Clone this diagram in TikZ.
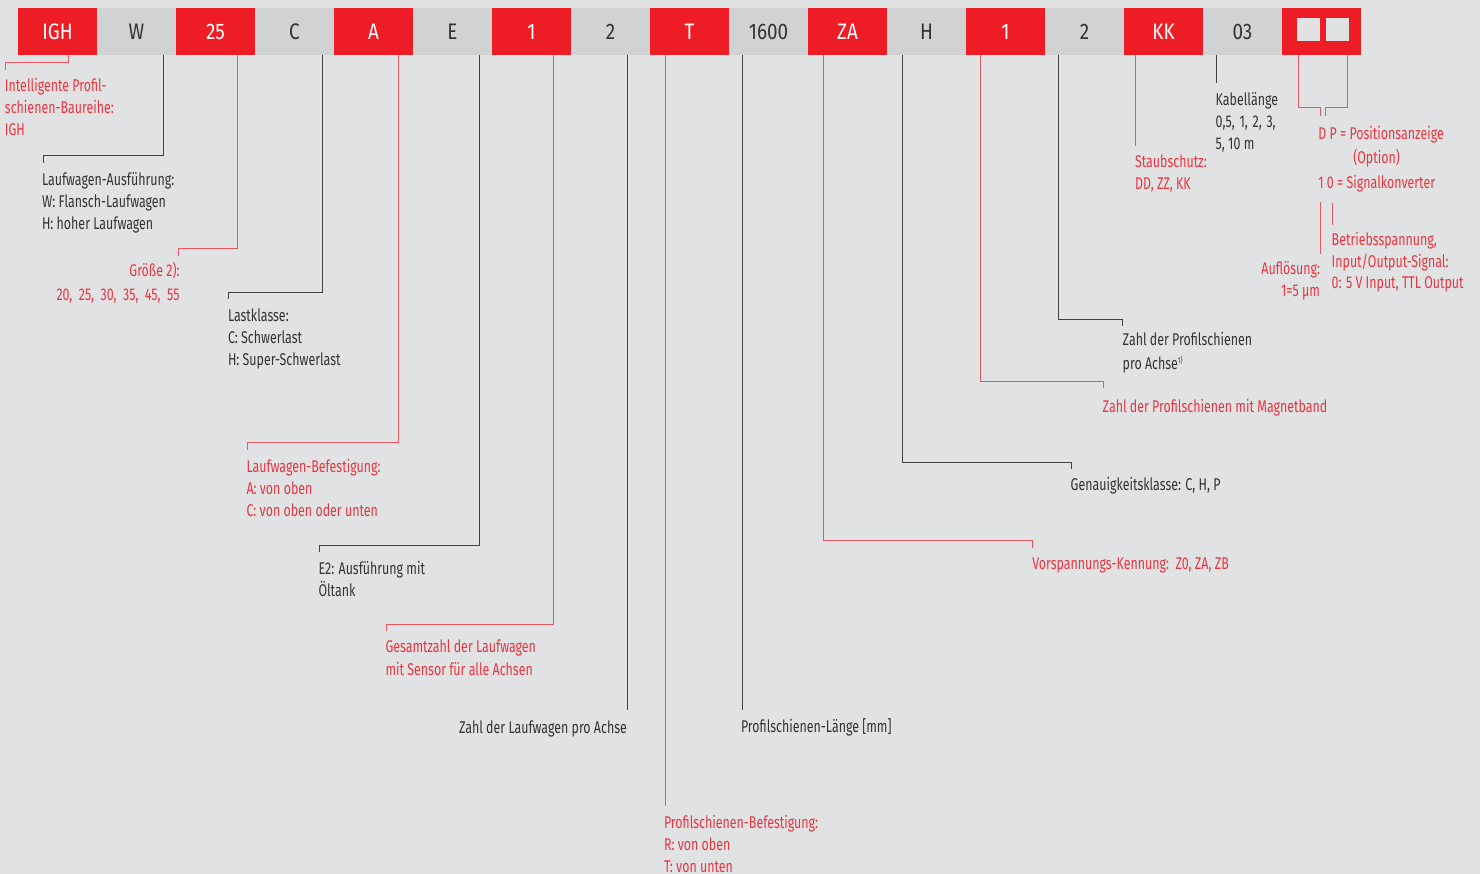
\documentclass[tikz,border=0pt]{standalone}
\usepackage{fontspec}
\setmainfont{Fira Sans}[FakeStretch=0.73]
\newfontfamily\boxfont{Fira Sans}[FakeStretch=0.84]
\definecolor{bg}{HTML}{E1E2E4}
\definecolor{boxred}{HTML}{EE1C25}
\definecolor{boxgrey}{HTML}{D1D2D4}
\definecolor{txtred}{HTML}{E8363F}
\definecolor{txtdark}{HTML}{333335}
\definecolor{linered}{HTML}{EC565E}
\definecolor{linedark}{HTML}{424244}
\begin{document}
\begin{tikzpicture}[x=1pt,y=-1pt,
  box/.style={minimum width=79pt, minimum height=47pt, inner sep=0pt, outer sep=0pt,
    font=\boxfont\fontsize{22.5}{22.5}\selectfont, text height=15.7pt, text depth=0pt},
  rbox/.style={box, fill=boxred, text=white},
  gbox/.style={box, fill=boxgrey, text=txtdark},
  sqbox/.style={minimum width=23pt, minimum height=23pt, inner sep=0pt, outer sep=0pt, fill=bg},
  lbl/.style={inner sep=0pt, outer sep=0pt, font=\fontsize{17}{22}\selectfont, align=left, anchor=base west},
  rlbl/.style={lbl, text=txtred},
  dlbl/.style={lbl, text=txtdark},
  rl/.style={draw=linered, line width=1pt},
  dl/.style={draw=linedark, line width=1pt},
]
\fill[bg] (0,0) rectangle (1480,874);
\useasboundingbox (0,0) rectangle (1480,874);

% code boxes
\node[rbox] (b1) at (57.5,31.5) {IGH};
\node[gbox] (b2) at (136.5,31.5) {W};
\node[rbox] (b3) at (215.5,31.5) {25};
\node[gbox] (b4) at (294.5,31.5) {C};
\node[rbox] (b5) at (373.5,31.5) {A};
\node[gbox] (b6) at (452.5,31.5) {E};
\node[rbox] (b7) at (531.5,31.5) {1};
\node[gbox] (b8) at (610.5,31.5) {2};
\node[rbox] (b9) at (689.5,31.5) {T};
\node[gbox] (b10) at (768.5,31.5) {1600};
\node[rbox] (b11) at (847.5,31.5) {ZA};
\node[gbox] (b12) at (926.5,31.5) {H};
\node[rbox] (b13) at (1005.5,31.5) {1};
\node[gbox] (b14) at (1084.5,31.5) {2};
\node[rbox] (b15) at (1163.5,31.5) {KK};
\node[gbox] (b16) at (1242.5,31.5) {03};
\node[rbox] (b17) at (1321.5,31.5) {};
\node[sqbox] (sq1) at (1308.3,29.2) {};
\node[sqbox] (sq2) at (1337.5,29.2) {};

% corner / end coordinates
\coordinate (k1) at (5.7,62.7);   \coordinate (e1) at (5.7,70);
\coordinate (k2) at (43.7,155.5); \coordinate (e2) at (43.7,162.7);
\coordinate (k3) at (178.7,249);  \coordinate (e3) at (178.7,256);
\coordinate (k4) at (228.7,292.3);\coordinate (e4) at (228.7,299);
\coordinate (k5) at (247.3,442.7);\coordinate (e5) at (247.3,450);
\coordinate (k6) at (319.3,545);  \coordinate (e6) at (319.3,551.7);
\coordinate (k7) at (386.7,624);  \coordinate (e7) at (386.7,631);
\coordinate (e8) at (627.5,710);
\coordinate (e9) at (665.7,805.7);
\coordinate (e10) at (742.3,710);
\coordinate (k11) at (1032,540.3); \coordinate (e11) at (1032,547.5);
\coordinate (k12) at (1071,462.3); \coordinate (e12) at (1071,469);
\coordinate (k13) at (1103,381.7); \coordinate (e13) at (1103,388);
\coordinate (k14) at (1122.5,320); \coordinate (e14) at (1122.5,326);
\coordinate (e15) at (1135.7,146);
\coordinate (e16) at (1216,83);
\coordinate (q1) at (1320.7,108); \coordinate (q2) at (1320.7,116);
\coordinate (q3) at (1325.3,108); \coordinate (q4) at (1325.3,116);
\coordinate (v1a) at (1320.5,202); \coordinate (v1b) at (1320.5,254);
\coordinate (v2a) at (1332,203);   \coordinate (v2b) at (1332,225);

% connectors
\draw[rl] ([xshift=10.5pt]b1.south) |- (k1) -- (e1);
\draw[dl] ([xshift=27pt]b2.south) |- (k2) -- (e2);
\draw[rl] ([xshift=22.2pt]b3.south) |- (k3) -- (e3);
\draw[dl] ([xshift=28.2pt]b4.south) |- (k4) -- (e4);
\draw[rl] ([xshift=24.5pt]b5.south) |- (k5) -- (e5);
\draw[dl] ([xshift=26.5pt]b6.south) |- (k6) -- (e6);
\draw[rl] ([xshift=22pt]b7.south) |- (k7) -- (e7);
\draw[dl] ([xshift=17pt]b8.south) -- (e8);
\draw[rl] ([xshift=-23.8pt]b9.south) -- (e9);
\draw[dl] ([xshift=-26.2pt]b10.south) -- (e10);
\draw[rl] ([xshift=-24.2pt]b11.south) |- (k11) -- (e11);
\draw[dl] ([xshift=-24.2pt]b12.south) |- (k12) -- (e12);
\draw[rl] ([xshift=-25.5pt]b13.south) |- (k13) -- (e13);
\draw[dl] ([xshift=-26.5pt]b14.south) |- (k14) -- (e14);
\draw[rl] ([xshift=-27.8pt]b15.south) -- (e15);
\draw[dl] ([xshift=-26.5pt]b16.south) -- (e16);
\draw[rl] ([xshift=-23.2pt]b17.south) |- (q1) -- (q2);
\draw[rl] ([xshift=26.2pt]b17.south) |- (q3) -- (q4);
\draw[rl] (v1a) -- (v1b);
\draw[rl] (v2a) -- (v2b);

% labels (base anchor = baseline of the last line)
\node[rlbl] (t1) at (5,135.7) {Intelligente Profil-\\schienen-Baureihe:\\IGH};
\node[dlbl] (t2) at (42,230) {Laufwagen-Ausführung:\\W: Flansch-Laufwagen\\H: hoher Laufwagen};
\node[rlbl, anchor=base east, align=right, font=\fontsize{17}{24.5}\selectfont] (t3) at (179.5,301) {Größe 2):\\\makebox[123pt][s]{20, 25, 30, 35, 45, 55}};
\node[dlbl] (t4) at (228,365.7) {Lastklasse:\\C: Schwerlast\\H: Super-Schwerlast};
\node[rlbl] (t5) at (246.5,516.3) {Laufwagen-Befestigung:\\A: von oben\\C: von oben oder unten};
\node[dlbl] (t6) at (318.5,596) {E2: Ausführung mit\\Öltank};
\node[rlbl, font=\fontsize{17}{22.7}\selectfont] (t7) at (385.5,675) {Gesamtzahl der Laufwagen\\mit Sensor für alle Achsen};
\node[dlbl] (t8) at (459,733.3) {Zahl der Laufwagen pro Achse};
\node[rlbl] (t9) at (664,872.3) {Profilschienen-Befestigung:\\R: von oben\\T: von unten};
\node[dlbl] (t10) at (741,732.3) {Profilschienen-Länge [mm]};
\node[rlbl] (t11) at (1032.3,569.3) {Vorspannungs-Kennung:\ \ Z0, ZA, ZB};
\node[dlbl] (t12) at (1070.7,490) {Genauigkeitsklasse: C, H, P};
\node[rlbl] (t13) at (1102.7,412.7) {Zahl der Profilschienen mit Magnetband};
\node[dlbl, font=\fontsize{17}{23.3}\selectfont] (t14) at (1122.7,369.3) {Zahl der Profilschienen\\pro Achse\raisebox{5.5pt}{\fontsize{8.5}{9}\selectfont 1)}};
\node[rlbl, font=\fontsize{17}{22.7}\selectfont] (t15) at (1135,190) {Staubschutz:\\DD, ZZ, KK};
\node[dlbl] (t16) at (1215.7,150) {Kabellänge\\\makebox[60pt][s]{0,5, 1, 2, 3,}\\5, 10 m};
\node[rlbl] (t17) at (1318.3,140) {D P = Positionsanzeige};
\node[rlbl] (t18) at (1353.3,163.3) {(Option)};
\node[rlbl] (t19) at (1318.3,189) {1 0 = Signalkonverter};
\node[rlbl, anchor=base east, align=right, font=\fontsize{17}{21.7}\selectfont] (t20) at (1320,296.7) {Auflösung:\\1=5 µm};
\node[rlbl, font=\fontsize{17}{21.5}\selectfont] (t21) at (1331.7,288.7) {Betriebsspannung,\\Input/Output-Signal:\\0: 5 V Input, TTL Output};
\end{tikzpicture}
\end{document}
